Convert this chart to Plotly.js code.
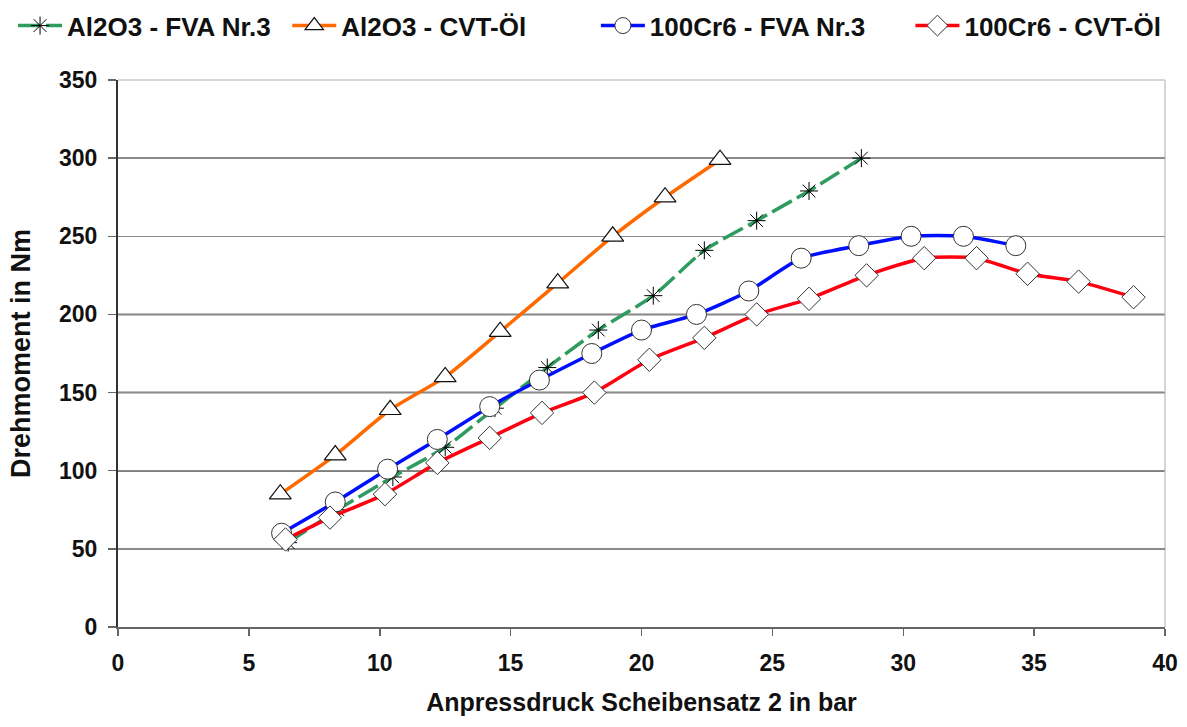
<!DOCTYPE html>
<html>
<head>
<meta charset="utf-8">
<script src="https://cdn.plot.ly/plotly-3.0.1.min.js"></script>
<style>html,body{margin:0;padding:0;background:#fff;}#chart{width:1187px;height:727px;}</style>
</head>
<body>
<div id="chart"></div>
<script>
// Data
const seriesNames = ["Al2O3 - FVA Nr.3", "Al2O3 - CVT-Öl", "100Cr6 - FVA Nr.3", "100Cr6 - CVT-Öl"];

const al2o3FvaX = [6.5, 8.4, 10.5, 12.5, 14.4, 16.4, 18.35, 20.45, 22.4, 24.4, 26.4, 28.4];
const al2o3FvaY = [54, 75, 96, 115, 140, 166, 190, 212, 241, 260, 279, 300];

const al2o3CvtX = [6.2, 8.3, 10.4, 12.5, 14.6, 16.8, 18.9, 20.9, 23.0];
const al2o3CvtY = [85, 110, 139, 160, 189, 220, 250, 275, 299];

const cr6FvaX = [6.25, 8.3, 10.3, 12.2, 14.2, 16.1, 18.1, 20.0, 22.1, 24.1, 26.1, 28.3, 30.3, 32.3, 34.3];
const cr6FvaY = [60, 80, 101, 120, 141, 158, 175, 190, 200, 215, 236, 244, 250, 250, 244];

const cr6CvtX = [6.4, 8.1, 10.2, 12.2, 14.2, 16.2, 18.2, 20.3, 22.4, 24.4, 26.4, 28.6, 30.8, 32.8, 34.75, 36.7, 38.8];
const cr6CvtY = [56, 70, 85, 105, 121, 137, 150, 171, 185, 200, 210, 225, 236, 236, 226, 221, 211];

const xTicks = [0, 5, 10, 15, 20, 25, 30, 35, 40];
const yTicks = [0, 50, 100, 150, 200, 250, 300, 350];
const darkGridValues = [100, 150, 200];
const legendLeft = [0.011, 0.242, 0.502, 0.767];

const FONT = "Liberation Sans, Arial, sans-serif";

const traces = [
  {
    x: al2o3FvaX, y: al2o3FvaY, name: seriesNames[0], mode: "lines+markers", legend: "legend",
    line: {color: "#2e9b5f", width: 3.5, dash: "22px,6px", shape: "spline", smoothing: 0.6},
    marker: {symbol: "asterisk-open", size: 15, color: "#000", line: {color: "#222", width: 1}}
  },
  {
    x: al2o3CvtX, y: al2o3CvtY, name: seriesNames[1], mode: "lines+markers", legend: "legend2",
    line: {color: "#ff6a00", width: 3.5, shape: "spline", smoothing: 0.6},
    marker: {symbol: "triangle-up", size: 19, color: "#fff", line: {color: "#111", width: 1.2}}
  },
  {
    x: cr6FvaX, y: cr6FvaY, name: seriesNames[2], mode: "lines+markers", legend: "legend3",
    line: {color: "#0010ff", width: 3.5, shape: "spline", smoothing: 0.6},
    marker: {symbol: "circle", size: 20, color: "#fff", line: {color: "#333", width: 1}}
  },
  {
    x: cr6CvtX, y: cr6CvtY, name: seriesNames[3], mode: "lines+markers", legend: "legend4",
    line: {color: "#ff0010", width: 3.5, shape: "spline", smoothing: 0.6},
    marker: {symbol: "diamond", size: 18, color: "#fff", line: {color: "#333", width: 1}}
  }
];

const shapes = darkGridValues.map(v => ({
  type: "line", xref: "paper", x0: 0, x1: 1, yref: "y", y0: v, y1: v,
  line: {color: "#000", width: 1.5}, layer: "below"
}));
shapes.push({type: "line", xref: "paper", x0: 0, x1: 1, yref: "paper", y0: 1, y1: 1, line: {color: "#c8c8c8", width: 1.5}, layer: "below"});
shapes.push({type: "line", xref: "paper", x0: 1, x1: 1, yref: "paper", y0: 0, y1: 1, line: {color: "#c8c8c8", width: 1.5}, layer: "below"});

function makeLegend(xpos) {
  return {
    orientation: "h", xref: "container", yref: "container",
    x: xpos, y: 0.997, xanchor: "left", yanchor: "top",
    font: {family: FONT, size: 26, color: "#111", weight: "bold"},
    itemwidth: 44, bgcolor: "rgba(0,0,0,0)"
  };
}

const layout = {
  width: 1187, height: 727,
  margin: {l: 118, r: 22, t: 80, b: 100},
  paper_bgcolor: "#fff", plot_bgcolor: "#fff",
  font: {family: FONT, color: "#111", size: 22, weight: "bold"},
  showlegend: true,
  legend: makeLegend(legendLeft[0]),
  legend2: makeLegend(legendLeft[1]),
  legend3: makeLegend(legendLeft[2]),
  legend4: makeLegend(legendLeft[3]),
  xaxis: {
    range: [0, 40], tickvals: xTicks, ticktext: xTicks.map(String),
    showgrid: false, zeroline: false,
    showline: true, linecolor: "#666", linewidth: 1.5,
    ticks: "outside", ticklen: 7, tickcolor: "#666", tickwidth: 1.5,
    ticklabelstandoff: 8,
    tickfont: {family: FONT, size: 23, weight: "bold", color: "#111"},
    title: {text: "Anpressdruck Scheibensatz 2 in bar", standoff: 18,
            font: {family: FONT, size: 25, weight: "bold", color: "#111"}}
  },
  yaxis: {
    range: [0, 350], tickvals: yTicks, ticktext: yTicks.map(String),
    showgrid: true, gridcolor: "#8a8a8a", gridwidth: 1.5, zeroline: false,
    showline: true, linecolor: "#333", linewidth: 2,
    ticks: "outside", ticklen: 8, tickcolor: "#666", tickwidth: 1.5,
    ticklabelstandoff: 6,
    tickfont: {family: FONT, size: 23, weight: "bold", color: "#111"},
    title: {text: "Drehmoment in Nm", standoff: 21,
            font: {family: FONT, size: 27, weight: "bold", color: "#111"}}
  },
  shapes: shapes
};

Plotly.newPlot("chart", traces, layout, {displayModeBar: false, staticPlot: true});
</script>
</body>
</html>
